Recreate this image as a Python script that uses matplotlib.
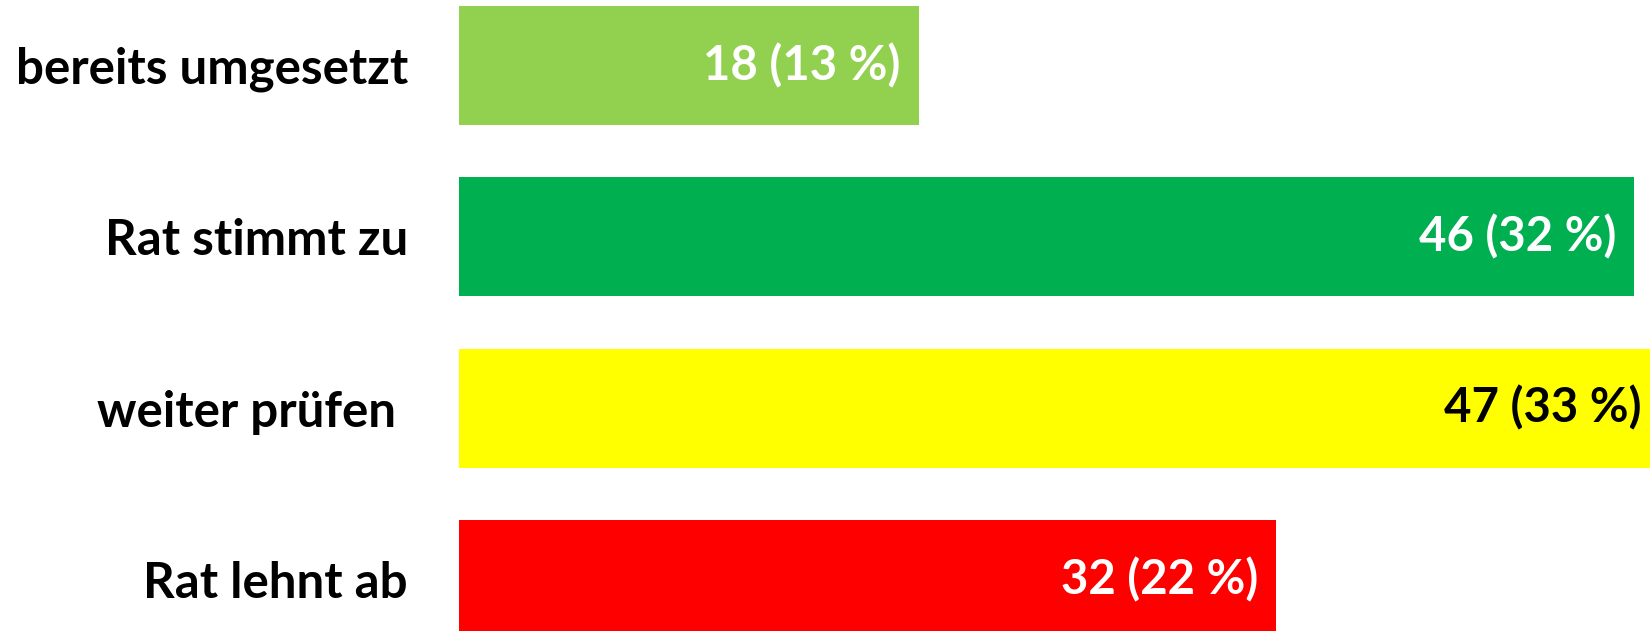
import matplotlib.pyplot as plt

categories = ["bereits umgesetzt", "Rat stimmt zu", "weiter prüfen ", "Rat lehnt ab"]
counts = [18, 46, 47, 32]
percents = [13, 32, 33, 22]
bar_colors = ["#92D050", "#00B050", "#FFFF00", "#FF0000"]
label_colors = ["white", "white", "black", "white"]

plt.rcParams["font.family"] = ["Lato", "DejaVu Sans"]

fig = plt.figure(figsize=(16.5, 6.31), dpi=100)
ax = fig.add_axes([0.2782, 0.0, 0.7218, 1.0])

y = list(range(len(categories)))
ax.barh(y, counts, height=0.695, color=bar_colors)

for i, (c, p) in enumerate(zip(counts, percents)):
    ax.annotate("{} ({} %)".format(c, p), xy=(c, i), xytext=(-18, 0),
                textcoords="offset pixels", ha="right", va="center",
                fontsize=34, fontweight="bold", color=label_colors[i],
                annotation_clip=False)

ax.set_xlim(0, 46.63)
ax.set_ylim(3.30, -0.382)
ax.set_yticks(y)
ax.set_yticklabels(categories, fontsize=35.5, fontweight="bold")
ax.tick_params(axis="y", length=0, pad=36.7)
ax.set_xticks([])
for s in ax.spines.values():
    s.set_visible(False)

fig.savefig("out.png", dpi=100)
